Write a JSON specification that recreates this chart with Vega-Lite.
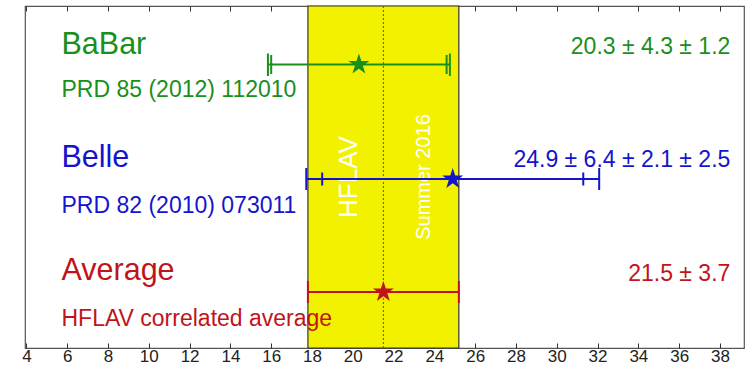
{
  "$schema": "https://vega.github.io/schema/vega-lite/v6.json",
  "width": 719,
  "height": 342,
  "autosize": "none",
  "padding": {"left": 25, "top": 6, "right": 4, "bottom": 17},
  "config": {
    "view": {"stroke": "#555", "strokeWidth": 1.2},
    "font": "Liberation Sans",
    "axis": {"grid": false, "domain": false, "labelFontSize": 17, "labelColor": "#222", "tickColor": "#333", "tickSize": -5, "labelPadding": 5}
  },
  "resolve": {"axis": {"x": "independent"}},
  "layer": [
    {
      "data": {"values": [{"lo": 17.8, "hi": 25.2}]},
      "mark": {"type": "rect", "color": "#f2f200", "stroke": "#333", "strokeWidth": 1.2},
      "encoding": {
        "x": {"field": "lo", "type": "quantitative", "scale": {"domain": [3.93, 39.18], "nice": false, "zero": false},
          "axis": {"values": [4, 6, 8, 10, 12, 14, 16, 18, 20, 22, 24, 26, 28, 30, 32, 34, 36, 38], "tickSize": -5, "labelFontSize": 17, "labelPadding": 5, "title": null, "orient": "bottom"}},
        "x2": {"field": "hi"}
      }
    },
    {
      "data": {"values": [{"v": 21.5}]},
      "mark": {"type": "rule", "color": "#555", "strokeDash": [2, 2], "strokeWidth": 1},
      "encoding": {
        "x": {"field": "v", "type": "quantitative", "scale": {"domain": [3.93, 39.18], "nice": false, "zero": false},
          "axis": {"values": [4, 6, 8, 10, 12, 14, 16, 18, 20, 22, 24, 26, 28, 30, 32, 34, 36, 38], "tickSize": -5, "labels": false, "title": null, "orient": "top"}}
      }
    },
    {
      "data": {"values": [
        {"t": "HFLAV", "x": 20.2, "y": 171, "s": 26},
        {"t": "Summer 2016", "x": 23.78, "y": 171, "s": 20}
      ]},
      "mark": {"type": "text", "angle": 270, "align": "center", "baseline": "alphabetic", "color": "white"},
      "encoding": {
        "x": {"field": "x", "type": "quantitative", "scale": {"domain": [3.93, 39.18], "nice": false, "zero": false}, "axis": null},
        "y": {"field": "y", "type": "quantitative", "scale": {"domain": [0, 342], "reverse": true, "nice": false, "zero": false}, "axis": null},
        "size": {"field": "s", "type": "quantitative", "scale": null},
        "text": {"field": "t"}
      }
    },
    {
      "data": {"values": [
        {"exp": "BaBar", "lo": 15.84, "hi": 24.76, "y": 58.5},
        {"exp": "Belle", "lo": 17.72, "hi": 32.08, "y": 173},
        {"exp": "Average", "lo": 17.8, "hi": 25.2, "y": 286}
      ]},
      "mark": {"type": "rule", "strokeWidth": 2},
      "encoding": {
        "x": {"field": "lo", "type": "quantitative", "scale": {"domain": [3.93, 39.18], "nice": false, "zero": false}, "axis": null},
        "x2": {"field": "hi"},
        "y": {"field": "y", "type": "quantitative", "scale": {"domain": [0, 342], "reverse": true, "nice": false, "zero": false}, "axis": null},
        "color": {"field": "exp", "type": "nominal", "scale": {"domain": ["BaBar", "Belle", "Average"], "range": ["#1a8f1a", "#1414cc", "#c0141c"]}, "legend": null}
      }
    },
    {
      "data": {"values": [
        {"exp": "BaBar", "x": 15.84, "y1": 47.5, "y2": 70},
        {"exp": "BaBar", "x": 16.0, "y1": 49, "y2": 68},
        {"exp": "BaBar", "x": 24.76, "y1": 47.5, "y2": 70},
        {"exp": "BaBar", "x": 24.6, "y1": 49, "y2": 68},
        {"exp": "Belle", "x": 17.72, "y1": 162, "y2": 184},
        {"exp": "Belle", "x": 18.5, "y1": 166.5, "y2": 179.5},
        {"exp": "Belle", "x": 32.08, "y1": 162, "y2": 184},
        {"exp": "Belle", "x": 31.3, "y1": 166.5, "y2": 179.5},
        {"exp": "Average", "x": 17.8, "y1": 275, "y2": 297},
        {"exp": "Average", "x": 25.2, "y1": 275, "y2": 297}
      ]},
      "mark": {"type": "rule", "strokeWidth": 2},
      "encoding": {
        "x": {"field": "x", "type": "quantitative", "scale": {"domain": [3.93, 39.18], "nice": false, "zero": false}, "axis": null},
        "y": {"field": "y1", "type": "quantitative", "scale": {"domain": [0, 342], "reverse": true, "nice": false, "zero": false}, "axis": null},
        "y2": {"field": "y2"},
        "color": {"field": "exp", "type": "nominal", "scale": {"domain": ["BaBar", "Belle", "Average"], "range": ["#1a8f1a", "#1414cc", "#c0141c"]}, "legend": null}
      }
    },
    {
      "data": {"values": [
        {"exp": "BaBar", "x": 20.3, "y": 58.5},
        {"exp": "Belle", "x": 24.9, "y": 173},
        {"exp": "Average", "x": 21.5, "y": 286}
      ]},
      "mark": {"type": "point", "filled": true, "opacity": 1, "size": 484, "shape": "M0,-1L0.2245,-0.309L0.951,-0.309L0.363,0.118L0.588,0.809L0,0.382L-0.588,0.809L-0.363,0.118L-0.951,-0.309L-0.2245,-0.309Z"},
      "encoding": {
        "x": {"field": "x", "type": "quantitative", "scale": {"domain": [3.93, 39.18], "nice": false, "zero": false}, "axis": null},
        "y": {"field": "y", "type": "quantitative", "scale": {"domain": [0, 342], "reverse": true, "nice": false, "zero": false}, "axis": null},
        "color": {"field": "exp", "type": "nominal", "scale": {"domain": ["BaBar", "Belle", "Average"], "range": ["#1a8f1a", "#1414cc", "#c0141c"]}, "legend": null}
      }
    },
    {
      "data": {"values": [
        {"exp": "BaBar", "t": "BaBar", "x": 5.72, "y": 47.5, "s": 30.5},
        {"exp": "BaBar", "t": "PRD 85 (2012) 112010", "x": 5.72, "y": 91, "s": 23},
        {"exp": "Belle", "t": "Belle", "x": 5.72, "y": 161, "s": 30.5},
        {"exp": "Belle", "t": "PRD 82 (2010) 073011", "x": 5.72, "y": 207, "s": 23},
        {"exp": "Average", "t": "Average", "x": 5.72, "y": 274, "s": 30.5},
        {"exp": "Average", "t": "HFLAV correlated average", "x": 5.72, "y": 320, "s": 23}
      ]},
      "mark": {"type": "text", "align": "left", "baseline": "alphabetic"},
      "encoding": {
        "x": {"field": "x", "type": "quantitative", "scale": {"domain": [3.93, 39.18], "nice": false, "zero": false}, "axis": null},
        "y": {"field": "y", "type": "quantitative", "scale": {"domain": [0, 342], "reverse": true, "nice": false, "zero": false}, "axis": null},
        "size": {"field": "s", "type": "quantitative", "scale": null},
        "text": {"field": "t"},
        "color": {"field": "exp", "type": "nominal", "scale": {"domain": ["BaBar", "Belle", "Average"], "range": ["#1a8f1a", "#1414cc", "#c0141c"]}, "legend": null}
      }
    },
    {
      "data": {"values": [
        {"exp": "BaBar", "t": "20.3 ± 4.3 ± 1.2", "x": 38.51, "y": 47.5},
        {"exp": "Belle", "t": "24.9 ± 6.4 ± 2.1 ± 2.5", "x": 38.51, "y": 161},
        {"exp": "Average", "t": "21.5 ± 3.7", "x": 38.51, "y": 275}
      ]},
      "mark": {"type": "text", "align": "right", "baseline": "alphabetic", "fontSize": 23},
      "encoding": {
        "x": {"field": "x", "type": "quantitative", "scale": {"domain": [3.93, 39.18], "nice": false, "zero": false}, "axis": null},
        "y": {"field": "y", "type": "quantitative", "scale": {"domain": [0, 342], "reverse": true, "nice": false, "zero": false}, "axis": null},
        "text": {"field": "t"},
        "color": {"field": "exp", "type": "nominal", "scale": {"domain": ["BaBar", "Belle", "Average"], "range": ["#1a8f1a", "#1414cc", "#c0141c"]}, "legend": null}
      }
    }
  ]
}
